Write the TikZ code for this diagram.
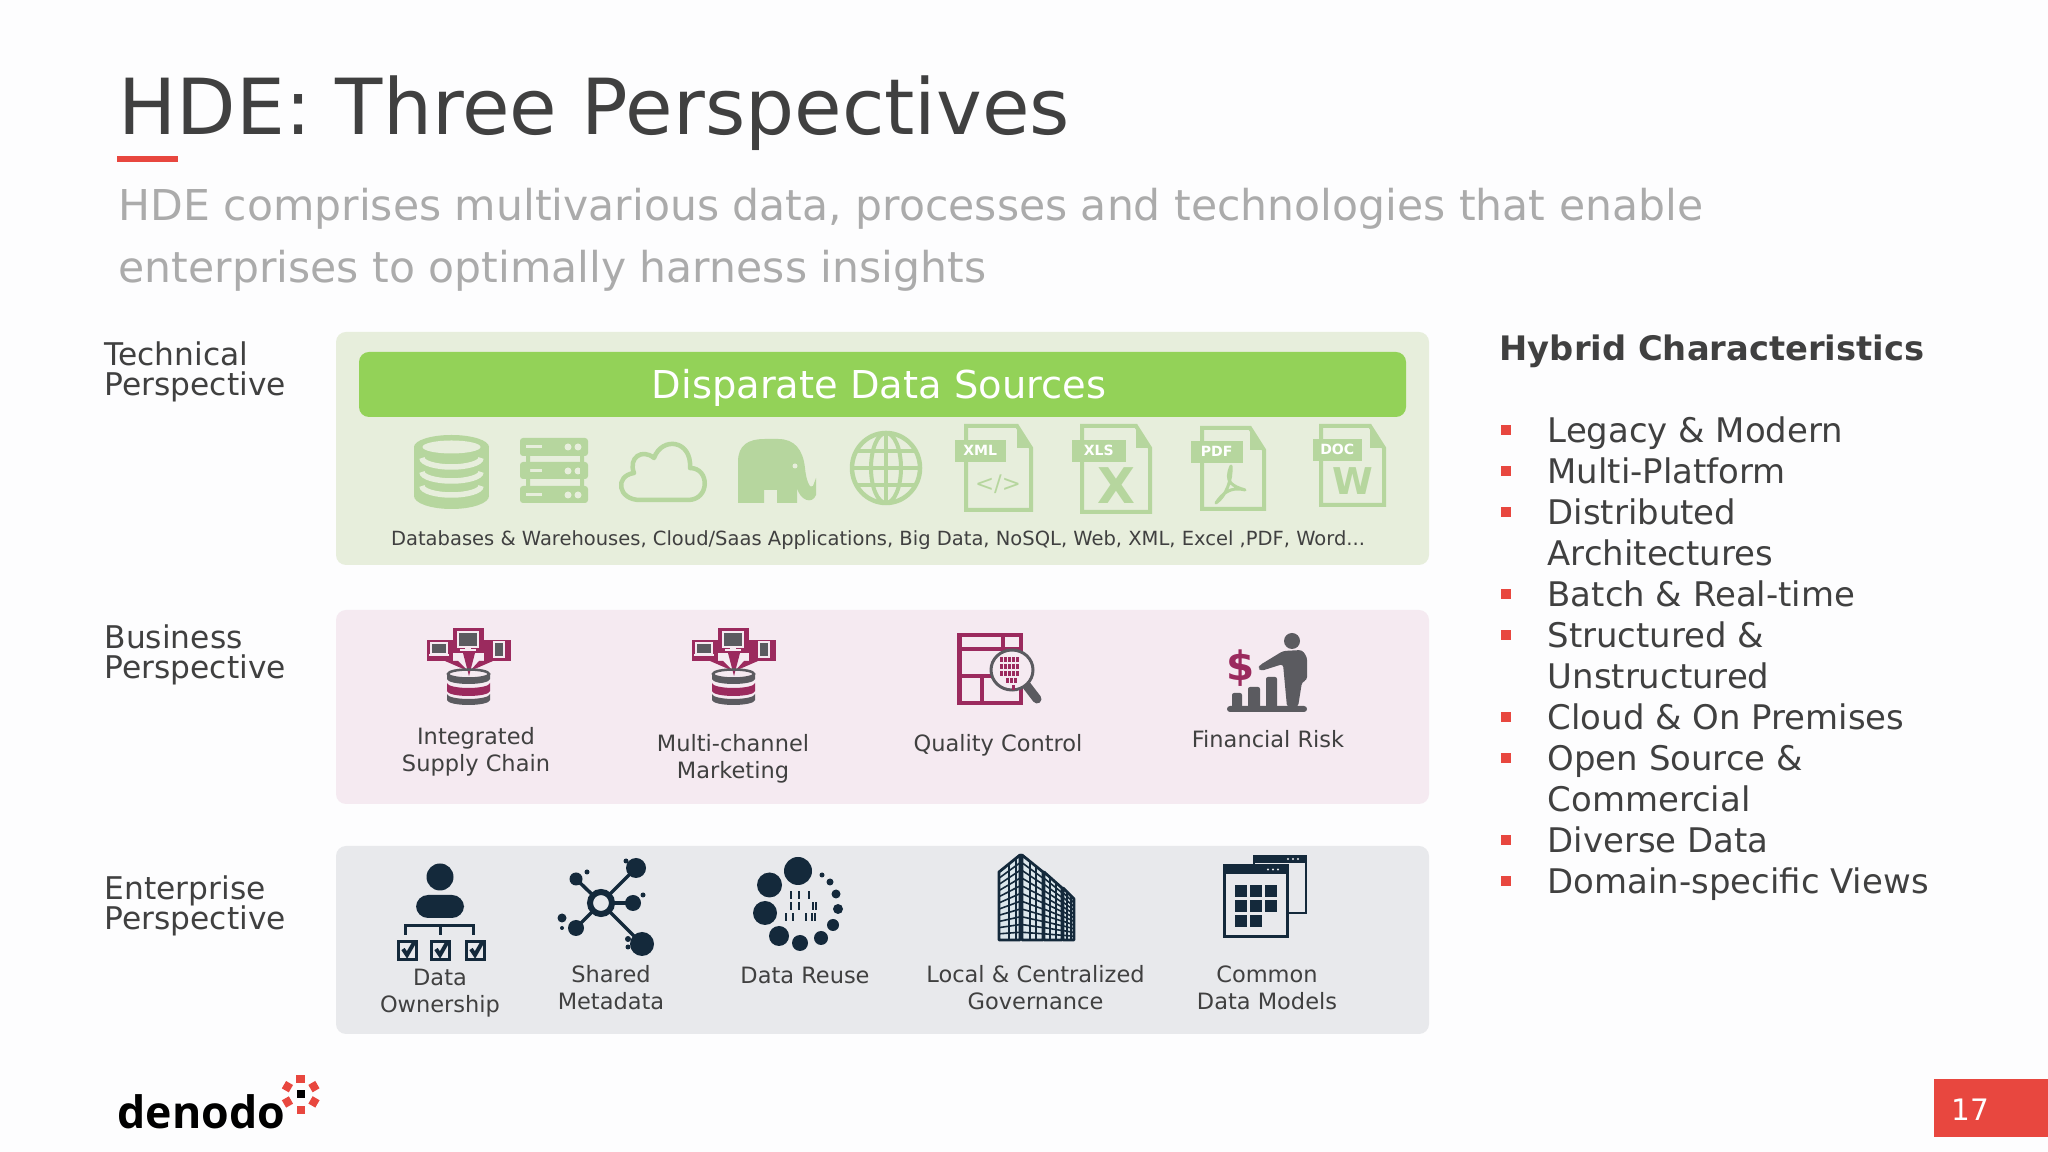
\documentclass[tikz,border=0pt]{standalone}
\usepackage{fontspec}
\setmainfont{DejaVu Sans}
\newfontfamily\logofont{Open Sans}
\definecolor{inkgray}{HTML}{404040}
\definecolor{subgray}{HTML}{ABABAB}
\definecolor{redmark}{HTML}{E8473F}
\definecolor{greenpanel}{HTML}{E7EEDC}
\definecolor{greenbar}{HTML}{93D258}
\definecolor{greenicon}{HTML}{B6D69E}
\definecolor{pinkpanel}{HTML}{F5EAF1}
\definecolor{grayicon}{HTML}{5B5B60}
\definecolor{magenta2}{HTML}{9B2A5E}
\definecolor{graypanel}{HTML}{E8E9EC}
\definecolor{darkicon}{HTML}{14293B}
\definecolor{glassblue}{HTML}{DCE7EC}
\definecolor{pagewhite}{HTML}{FDFDFE}
\tikzset{
    panel/.style={rounded corners=1mm, fill=#1},
    txt/.style={inner sep=0, anchor=base west, text=inkgray},
    persp/.style={txt, align=left, font=\fontsize{8.9}{8.8}\selectfont},
    item/.style={txt, font=\fontsize{9.65}{10}\selectfont},
    iconcap/.style={inner sep=0, anchor=base, align=center, text=inkgray, font=\fontsize{6.4}{7.7}\selectfont},
    doctag/.style={fill=greenicon, text=white, inner sep=0, minimum height=2.2mm, font=\fontsize{4}{4}\selectfont\bfseries},
    dbband/.style={fill=#1},
    rim/.style={draw=pinkpanel, line width=0.12mm, fill=grayicon},
    chain/.pic={
        \fill[magenta2] (-15,-45) rectangle (16,-20);
        \fill[magenta2] (-41,-33) rectangle (-15,-12);
        \fill[magenta2] (16,-33) rectangle (43,-12);
        \fill[magenta2] (-5,-20) -- (7,-20) -- (1,3) -- cycle;
        \fill[magenta2] (-23,-12) -- (-10,-12) -- (0,-2) -- cycle;
        \fill[magenta2] (25,-12) -- (11,-12) -- (2,-2) -- cycle;
        \path[rim] (-10,-41) rectangle (10,-26);
        \fill[pinkpanel] (-3,-26) rectangle (3,-23.5);
        \fill[pinkpanel] (-8,-23.5) rectangle (8,-22);
        \path[rim] (-37,-30) rectangle (-21,-19);
        \fill[pinkpanel] (-39,-19) rectangle (-19,-17);
        \path[rim] (26,-31) rectangle (36,-16);
        \draw[grayicon, line width=0.25mm] (0.5,1) ellipse (20.5 and 4.5);
        \path[dbband=grayicon] (-21,1) arc (180:0:21.5 and 5) -- (22,6) arc (0:180:21.5 and 5) -- cycle;
        \path[dbband=magenta2] (-21,10) arc (180:0:21.5 and 5) -- (22,18) arc (0:180:21.5 and 5) -- cycle;
        \path[dbband=grayicon] (-21,21) arc (180:0:21.5 and 5) -- (22,27) arc (0:180:21.5 and 5) -- cycle;
    }
}
\begin{document}
\begin{tikzpicture}[x=0.1mm, y=-0.1mm]
    \useasboundingbox (0,0) rectangle (2048,1152);
    \fill[pagewhite] (0,0) rectangle (2048,1152);
    \node[txt, font=\fontsize{22}{24}\selectfont] (title) at (118,135) {HDE: Three Perspectives};
    \fill[redmark] (117,156) rectangle (178,162);
    \node[txt, text=subgray, font=\fontsize{12.1}{14}\selectfont] (sub1) at (118,221) {HDE comprises multivarious data, processes and technologies that enable};
    \node[txt, text=subgray, font=\fontsize{12.1}{14}\selectfont] (sub2) at (118,283) {enterprises to optimally harness insights};

    \node[persp] (techlabel) at (104,396) {Technical\\Perspective};
    \node[persp] (buslabel) at (104,679) {Business\\Perspective};
    \node[persp] (entlabel) at (104,930) {Enterprise\\Perspective};

    \fill[panel=greenpanel] (336,332) rectangle (1429,565);
    \fill[panel=pinkpanel] (336,610) rectangle (1429,804);
    \fill[panel=graypanel] (336,846) rectangle (1429,1034);

    \fill[panel=greenbar] (359,352) rectangle (1406,417);
    \node[inner sep=0, anchor=base, text=white, font=\fontsize{10.93}{12}\selectfont] (srctitle) at (879,399) {Disparate Data Sources};
    \node[iconcap, font=\fontsize{5.55}{7}\selectfont] (srcnote) at (878,546) {Databases \& Warehouses, Cloud/Saas Applications, Big Data, NoSQL, Web, XML, Excel ,PDF, Word...};

    % green source icons
    \fill[greenicon] (414,447) rectangle (489,496);
    \fill[greenicon] (451.5,447) ellipse (37.5 and 12);
    \fill[greenicon] (451.5,496) ellipse (37.5 and 13);
    \fill[greenpanel] (451.5,447) ellipse (29 and 6.5);
    \foreach \yy in {458,472,486}
        \draw[greenpanel, line width=0.55mm] (422,\yy) arc (180:0:29.5 and 9);
    \foreach \ya/\yb in {438/456,462/479,486/503} {
        \fill[greenicon, rounded corners=0.3mm] (520,\ya) rectangle (588,\yb);
        \fill[greenpanel] (526,\ya+7) rectangle (542,\ya+10);
        \fill[greenpanel] (568,\ya+9) circle (3.5);
        \fill[greenpanel] (578,\ya+9) circle (3.5);
    }
    \fill[greenicon] (526,456) rectangle (530,486) (580,456) rectangle (584,486);
    \draw[greenicon, line width=0.45mm, line join=round] (640,500) -- (688,500) .. controls (710,500) and (710,468) .. (690,468) .. controls (692,440) and (662,436) .. (654,458) .. controls (642,448) and (628,458) .. (634,473) .. controls (614,476) and (618,500) .. (640,500) -- cycle;
    \fill[greenicon] (738,503) -- (738,462) .. controls (738,445) and (748,439) .. (765,439) -- (778,439) .. controls (795,439) and (803,450) .. (805,468) .. controls (806,480) and (810,490) .. (813,486) -- (816,478) -- (816,495) .. controls (812,505) and (800,500) .. (797,488) -- (797,503) -- (777,503) -- (777,490) -- (764,490) -- (764,503) -- cycle;
    \fill[greenpanel] (795,466) circle (2.5);
    \draw[greenicon, line width=0.45mm] (886,468) ellipse (34 and 35);
    \draw[greenicon, line width=0.4mm] (886,468) ellipse (15 and 35);
    \draw[greenicon, line width=0.4mm] (886,433) -- (886,503);
    \draw[greenicon, line width=0.4mm] (852,468) -- (920,468) (857,451) -- (915,451) (857,485) -- (915,485);

    \foreach \xa/\xb/\ya/\yb/\xt/\yt/\wt/\lab in {966/1031/426/510/954/439/51/XML, 1082/1150/426/512/1071/439/54/XLS, 1202/1264/428/509/1190/440/52/PDF, 1321/1384/426/505/1312/438/49/DOC} {
        \draw[greenicon, line width=0.4mm, fill=greenpanel] (\xa,\ya) -- (\xb-14,\ya) -- (\xb,\ya+22) -- (\xb,\yb) -- (\xa,\yb) -- cycle;
        \fill[greenicon] (\xb-14,\ya) -- (\xb,\ya+22) -- (\xb-14,\ya+22) -- cycle;
        \node[doctag, anchor=north west, minimum width=\wt*0.1mm] (tag\lab) at (\xt,\yt) {\lab};
    }
    \node[inner sep=0, text=greenicon, font=\fontsize{6.5}{8}\selectfont] (xmlmark) at (998,484) {</>};
    \node[inner sep=0, text=greenicon, font=\fontsize{14}{14}\selectfont\bfseries] (xlsmark) at (1116,486) {X};
    \draw[greenicon, line width=0.3mm, line join=round] (1231,466) .. controls (1224,482) and (1232,486) .. (1245,490) .. controls (1230,486) and (1222,494) .. (1216,503) .. controls (1226,496) and (1232,480) .. (1231,466) -- cycle;
    \node[inner sep=0, text=greenicon, font=\fontsize{10.5}{11}\selectfont\bfseries] (docmark) at (1353,481) {W};

    % business icons
    \pic at (468,673) {chain};
    \pic at (733,673) {chain};
    \node[iconcap] (chaincap) at (476,772) {Integrated\\Supply Chain};
    \node[iconcap] (marketcap) at (733,779) {Multi-channel\\Marketing};
    \draw[magenta2, line width=0.45mm] (959.5,635) rectangle (1021,703);
    \draw[magenta2, line width=0.45mm] (958,649) -- (1022,649) (1003,635) -- (1003,649) (958,676) -- (1000,676) (982,676) -- (982,704);
    \draw[grayicon, line width=0.9mm, line cap=round] (1027,686) -- (1037,699);
    \draw[grayicon, line width=0.3mm, fill=pinkpanel] (1012,670) ellipse (21 and 20);
    \foreach \xx/\yy/\nn in {1000/657/5, 1000/664/5, 1000/671/5, 1006/678/3, 1012/685/1} {
        \foreach \kk in {1,...,\nn}
            \fill[magenta2] (\xx+\kk*4-4,\yy) rectangle ++(3,5);
    }
    \node[iconcap] (qualcap) at (998,752) {Quality Control};
    \fill[grayicon, rounded corners=0.3mm] (1227,706) rectangle (1307,712);
    \fill[grayicon, rounded corners=0.2mm] (1232,707) -- (1232,693) -- (1242,693) -- (1242,707) (1248,707) -- (1248,687) -- (1260,687) -- (1260,707) (1266,707) -- (1266,677) -- (1277,677) -- (1277,707);
    \fill[grayicon] (1292,641) circle (8);
    \fill[grayicon, rounded corners=0.3mm] (1283,651) -- (1302,650) -- (1307,657) -- (1307,680) -- (1302,682) -- (1298,707) -- (1287,707) -- (1283,664) -- (1261,671) -- (1258,668) -- (1260,665) -- cycle;
    \node[inner sep=0, text=magenta2, font=\fontsize{11.5}{12}\selectfont\bfseries] (dollar) at (1241,668) {\$};
    \node[iconcap] (riskcap) at (1268,748) {Financial Risk};

    % enterprise icons
    \fill[darkicon] (440,877) ellipse (13.5 and 13.5);
    \fill[darkicon, rounded corners=1.2mm] (416,895) rectangle (464,918);
    \draw[darkicon, line width=0.3mm] (405,935) -- (405,926) -- (473,926) -- (473,935) (440,926) -- (440,935);
    \foreach \xx in {407,440,475} {
        \draw[darkicon, line width=0.3mm] (\xx-9,942) rectangle (\xx+9,960);
        \draw[darkicon, line width=0.4mm] (\xx-4,949) -- (\xx,955) -- (\xx+8,941);
    }
    \node[iconcap] (owncap) at (440,1013) {Data\\Ownership};

    \foreach \xx/\yy in {636/868, 576/879, 633/903, 576/928, 642/944}
        \draw[darkicon, line width=0.35mm] (601,903) -- (\xx,\yy);
    \draw[darkicon, line width=0.6mm, fill=graypanel] (601,903) circle (11);
    \foreach \xx/\yy/\rr in {636/868/10, 576/879/6.5, 633/903/8, 576/928/8, 642/944/12, 587/872/2.5, 626/861/2.5, 643/895/2.5, 562/918/4.5, 562/928/2, 628/939/3, 628/947/2.5}
        \fill[darkicon] (\xx,\yy) circle (\rr);
    \node[iconcap] (metacap) at (611,1010) {Shared\\Metadata};

    \foreach \xx/\yy/\rr in {798/871/14, 769.5/885/12.5, 765/913/12, 779/936/10, 800/943/8, 821/938/7, 833/925/6, 838/909/5, 836/894/4.5, 830/882/3.5, 822/875/2.5}
        \fill[darkicon] (\xx,\yy) circle (\rr);
    \foreach \xx/\yy in {790/895, 798/895, 808/895, 790/906, 798/906, 812/906, 815/906, 785/917, 792/917, 805/917, 811/917, 814/917}
        \fill[darkicon] (\xx,\yy-4) rectangle ++(1.6,8);
    \node[iconcap] (reusecap) at (805,984) {Data Reuse};

    \foreach \xa/\ya/\xb/\yb/\va/\vb in {999/872/1020/855/1009/1016, 1022/855/1043/872/1030/1036, 1044/872/1062/888/1050/1056, 1063/888/1074/899/1067/1071} {
        \fill[glassblue] (\xa,\ya) -- (\xb,\yb) -- (\xb,940) -- (\xa,940) -- cycle;
        \foreach \kk in {1,...,10}
            \draw[darkicon, line width=0.16mm] (\xa,{\ya+(940-\ya)*\kk/11}) -- (\xb,{\yb+(940-\yb)*\kk/11});
        \draw[darkicon, line width=0.2mm] (\va,{\ya+(\yb-\ya)*(\va-\xa)/(\xb-\xa)}) -- (\va,940) (\vb,{\ya+(\yb-\ya)*(\vb-\xa)/(\xb-\xa)}) -- (\vb,940);
        \draw[darkicon, line width=0.28mm, line join=round] (\xa,\ya) -- (\xb,\yb) -- (\xb,940) -- (\xa,940) -- cycle;
    }
    \node[iconcap] (govcap) at (1035.5,1010) {Local \& Centralized\\Governance};

    \draw[darkicon, line width=0.25mm, fill=graypanel] (1254,856) rectangle (1306,913);
    \fill[darkicon] (1254,855) rectangle (1306,863);
    \draw[darkicon, line width=0.3mm, fill=graypanel] (1224.5,866) rectangle (1287,937);
    \fill[darkicon] (1224,865) rectangle (1287,874);
    \foreach \xx in {1288,1293,1298}
        \fill[graypanel] (\xx,859) circle (1.2);
    \foreach \xx in {1268,1273,1278}
        \fill[graypanel] (\xx,869.5) circle (1.2);
    \foreach \xx/\yy in {1235/885, 1250/885, 1265/885, 1235/900, 1250/900, 1265/900, 1235/915, 1250/915}
        \fill[darkicon] (\xx,\yy) rectangle ++(12,12);
    \node[iconcap] (modelcap) at (1267,1010) {Common\\Data Models};

    % right column
    \node[txt, font=\fontsize{9.6}{10}\selectfont\bfseries] (hybrid) at (1499,361) {Hybrid Characteristics};
    \foreach \yy/\lab/\ismark [count=\ii] in {443/Legacy \& Modern/1, 484/Multi-Platform/1, 525/Distributed/1, 566/Architectures/0, 607/Batch \& Real-time/1, 648/Structured \&/1, 689/Unstructured/0, 730/Cloud \& On Premises/1, 771/Open Source \&/1, 812/Commercial/0, 853/Diverse Data/1, 894/Domain-specific Views/1} {
        \node[item] (line\ii) at (1547,\yy) {\lab};
        \ifnum\ismark=1 \fill[redmark] (1501,\yy-18) rectangle ++(10,10); \fi
    }

    % logo and page number
    \node[inner sep=0, anchor=base west, font=\logofont\fontsize{12.7}{14}\selectfont\bfseries] (logo) at (117,1128) {denodo};
    \foreach \ang in {90,30,-30,-90,-150,150}
        \fill[redmark, rotate around={\ang:(300.7,1094.3)}] (312,1090) rectangle (320,1098.5);
    \fill[black] (297,1090.5) rectangle (304.5,1098);
    \fill[redmark] (1934,1079) rectangle (2048,1137);
    \node[inner sep=0, anchor=base west, text=white, font=\fontsize{8.4}{10}\selectfont] (pagenum) at (1951,1120) {17};
\end{tikzpicture}
\end{document}
